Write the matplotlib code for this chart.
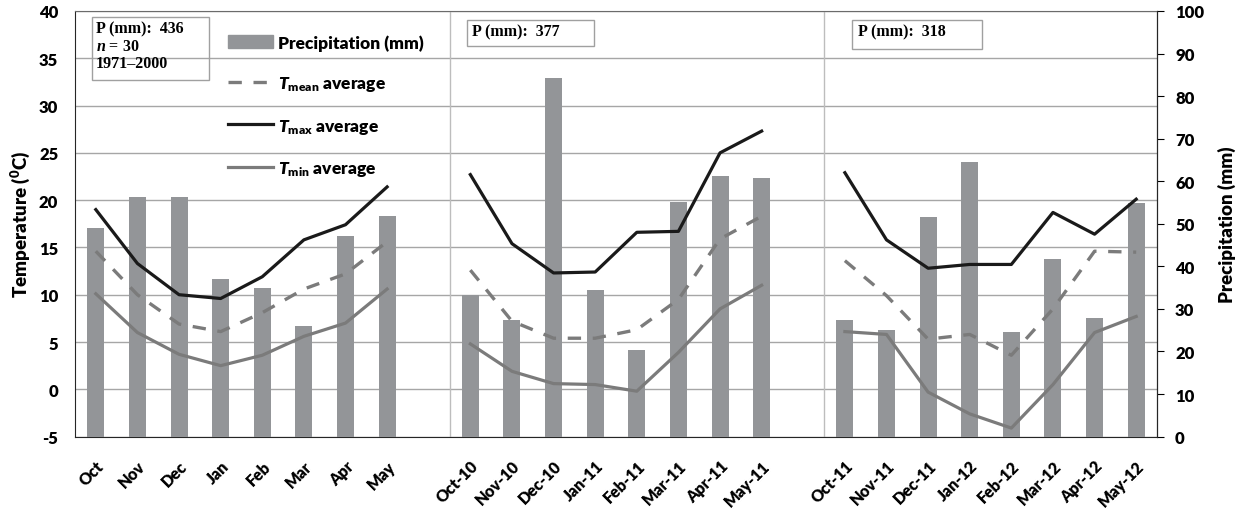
import numpy as np
import matplotlib.pyplot as plt
from matplotlib.patches import Patch, Rectangle
from matplotlib.lines import Line2D

plt.rcParams['font.family'] = 'Lato'
plt.rcParams['font.weight'] = 'heavy'
plt.rcParams['axes.unicode_minus'] = False
plt.rcParams['mathtext.fontset'] = 'custom'
plt.rcParams['mathtext.it'] = 'Lato:heavy:italic'
plt.rcParams['mathtext.rm'] = 'Lato:heavy'
plt.rcParams['mathtext.bf'] = 'Liberation Serif:bold:italic'

# etiquetas de los tres periodos
meses_normal = ['Oct', 'Nov', 'Dec', 'Jan', 'Feb', 'Mar', 'Apr', 'May']
meses_1011 = ['Oct-10', 'Nov-10', 'Dec-10', 'Jan-11', 'Feb-11', 'Mar-11', 'Apr-11', 'May-11']
meses_1112 = ['Oct-11', 'Nov-11', 'Dec-11', 'Jan-12', 'Feb-12', 'Mar-12', 'Apr-12', 'May-12']

# precipitacion (mm)
prec_normal = [49.1, 56.2, 56.2, 37.1, 35.0, 26.0, 47.2, 51.9]
prec_1011 = [33.3, 27.4, 84.2, 34.5, 20.4, 55.2, 61.3, 60.8]
prec_1112 = [27.5, 25.1, 51.7, 64.6, 24.6, 41.8, 27.9, 55.0]

# temperaturas (C)
tmax_normal = [19.0, 13.3, 10.0, 9.6, 11.9, 15.8, 17.4, 21.4]
tmean_normal = [14.6, 10.0, 6.9, 6.1, 8.1, 10.6, 12.2, 15.6]
tmin_normal = [10.1, 6.0, 3.7, 2.5, 3.6, 5.6, 7.0, 10.6]

tmax_1011 = [22.7, 15.4, 12.3, 12.4, 16.6, 16.7, 25.0, 27.3]
tmean_1011 = [12.6, 7.2, 5.4, 5.4, 6.3, 9.5, 15.9, 18.3]
tmin_1011 = [4.8, 1.9, 0.6, 0.5, -0.2, 3.9, 8.5, 11.0]

tmax_1112 = [22.9, 15.8, 12.8, 13.2, 13.2, 18.7, 16.4, 20.1]
tmean_1112 = [13.6, 9.9, 5.3, 5.8, 3.6, 8.5, 14.6, 14.5]
tmin_1112 = [6.1, 5.8, -0.3, -2.6, -4.1, 0.5, 6.0, 7.7]

totales = ['436', '377', '318']

periodos = [
    (meses_normal, prec_normal, tmax_normal, tmean_normal, tmin_normal),
    (meses_1011, prec_1011, tmax_1011, tmean_1011, tmin_1011),
    (meses_1112, prec_1112, tmax_1112, tmean_1112, tmin_1112),
]

c_bar = '#939598'
c_max = '#1a1a1a'
c_gris = '#7b7b7b'
peso = 'heavy'

fig = plt.figure(figsize=(12.5, 5.1), dpi=100)
ax = fig.add_axes([0.06, 0.142, 0.8656, 0.8345])
axp = ax.twinx()
axt = ax.twinx()

pos_all = []
lab_all = []
for i, (meses, prec, tmax, tmean, tmin) in enumerate(periodos):
    x = np.arange(len(meses)) + i * 9
    pos_all += list(x)
    lab_all += meses
    axp.bar(x, prec, width=0.41, color=c_bar)
    axt.plot(x, tmean, color=c_gris, lw=2.4, ls=(0, (4, 3.5)))
    axt.plot(x, tmax, color=c_max, lw=2.3)
    axt.plot(x, tmin, color=c_gris, lw=2.3)

# ejes
ax.set_xlim(-0.5, 25.5)
ax.set_ylim(-5, 40)
ax.set_yticks(range(-5, 41, 5))
ax.yaxis.grid(True, color='#a6a6a6', lw=1)
ax.axvline(8.5, color='#bdbdbd', lw=1)
ax.axvline(17.5, color='#bdbdbd', lw=1)
ax.tick_params(axis='y', length=0, labelsize=12, pad=12)
ax.set_xticks(pos_all)
ax.set_xticklabels(lab_all, rotation=45, ha='right', rotation_mode='anchor', fontsize=11.5)
ax.tick_params(axis='x', length=0, pad=15)
ax.set_ylabel('Temperature ($^{0}$C)', fontsize=13.5, fontweight=peso, labelpad=5)
for s in ['left', 'bottom']:
    ax.spines[s].set_color('#262626')
ax.spines['top'].set_color('#6b6b6b')

axp.set_ylim(0, 100)
axp.set_yticks(range(0, 101, 10))
axp.tick_params(axis='y', direction='out', length=5, labelsize=12, pad=8)
axp.set_ylabel('Precipitation (mm)', fontsize=13.5, fontweight=peso, labelpad=10)
axp.yaxis.set_label_position('right')
axp.spines['right'].set_color('#262626')

for lbl in ax.get_xticklabels() + ax.get_yticklabels() + axp.get_yticklabels():
    lbl.set_fontweight(peso)

axt.set_ylim(-5, 40)
axt.set_yticks([])
for a in [axp, axt]:
    a.spines['top'].set_visible(False)
    a.spines['left'].set_visible(False)
    a.spines['bottom'].set_visible(False)
axt.spines['right'].set_visible(False)

# leyenda
handles = [
    Patch(color=c_bar),
    Line2D([], [], color=c_gris, lw=2.4, ls=(0, (4, 3.5))),
    Line2D([], [], color=c_max, lw=2.3),
    Line2D([], [], color=c_gris, lw=2.3),
]
labels = ['Precipitation (mm)', r'$T_{\rm mean}$ average',
          r'$T_{\rm max}$ average', r'$T_{\rm min}$ average']
leg = axt.legend(handles, labels, loc='upper left', bbox_to_anchor=(0.135, 0.962),
                 frameon=False, fontsize=12.5, handlelength=2.6, handletextpad=0.3,
                 labelspacing=1.35, borderaxespad=0)
for t in leg.get_texts():
    t.set_fontweight(peso)

# cajas de totales
cajas = [(0.0157, 0.838, 0.108, 0.148), (0.362, 0.917, 0.118, 0.062),
         (0.718, 0.910, 0.120, 0.068)]
for (x0, y0, w, h) in cajas:
    axt.add_patch(Rectangle((x0, y0), w, h, transform=axt.transAxes, fill=False,
                            edgecolor='#a0a0a0', lw=1))
serif = dict(family='Liberation Serif', weight='bold', fontsize=11.5, va='top', ha='left',
             transform=axt.transAxes)
axt.text(0.019, 0.978, 'P (mm):  ' + totales[0] + '\n$\\mathbf{n}$ = 30\n1971\u20132000',
         linespacing=1.12, **serif)
axt.text(0.367, 0.972, 'P (mm):  ' + totales[1], **serif)
axt.text(0.724, 0.970, 'P (mm):  ' + totales[2], **serif)

plt.savefig('out.png', dpi=100)
